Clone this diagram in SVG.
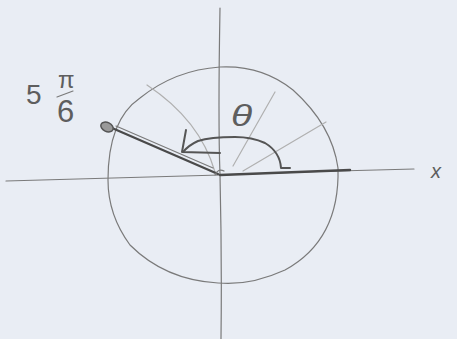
<svg xmlns="http://www.w3.org/2000/svg" width="457" height="339" viewBox="0 0 457 339">
<style>
.p{fill:none;stroke:#7a7a7a;stroke-width:1.2;stroke-linecap:round;stroke-linejoin:round}
.l{fill:none;stroke:#b0b0b0;stroke-width:1.2;stroke-linecap:round}
.d{fill:none;stroke:#4a4a4a;stroke-width:2.4;stroke-linecap:round;stroke-linejoin:round}
.a{fill:none;stroke:#555;stroke-width:2;stroke-linecap:round;stroke-linejoin:round}
.t{font-family:"Liberation Sans",sans-serif;fill:#5e5e5e}
</style>
<rect width="457" height="339" fill="#e9edf4"/>
<!-- axes -->
<path class="p" d="M220 8 Q218 120 220 175 Q222 260 221 339"/>
<path class="p" d="M6 181 Q120 178 220 175 Q320 171 414 169"/>
<text class="t" x="431" y="178" font-size="20" font-style="italic">x</text>
<!-- circle -->
<path class="p" d="M220 67 Q262 65 293 90 Q332 125 338 168 Q340 240 285 270 Q250 286 218 283 Q165 280 130 245 Q108 215 108 180 Q108 120 140 98 Q175 70 220 67 Z"/>
<!-- rays -->
<path class="l" d="M233 166 L275 92"/>
<path class="l" d="M243 171 L326 122"/>
<path class="l" d="M215 172 Q200 120 147 85"/>
<!-- thick zero ray -->
<path class="d" d="M220 175 L350 170"/>
<!-- nail -->
<g id="nail">
<path class="d" d="M218 174 L112 128"/>
<path class="p" d="M213 168 L116 126"/>
<ellipse cx="107" cy="127" rx="6.5" ry="4.5" transform="rotate(25 107 127)" fill="#9a9a9a" stroke="#555" stroke-width="1.5"/>
<path class="p" d="M215 175 Q218 168 224 171"/>
</g>
<!-- angle arrow -->
<g id="arrow">
<path class="a" d="M290 168 L281 168 Q280 152 265 143 Q252 137 235 137 Q210 137 198 141 Q189 145 183 152"/>
<path class="a" d="M186 130 L182 152 L220 153"/>
</g>
<text class="t" x="231" y="126" font-size="30" font-style="italic" transform="translate(231 0) scale(1.3 1) translate(-231 0)">θ</text>
<!-- 5π/6 -->
<g id="label">
<text class="t" x="26" y="104" font-size="28">5</text>
<text class="t" x="58" y="88" font-size="24">π</text>
<path class="p" d="M57 97 L73 91" stroke="#666" stroke-width="1.6"/>
<text class="t" x="57" y="122" font-size="31">6</text>
</g>
</svg>
